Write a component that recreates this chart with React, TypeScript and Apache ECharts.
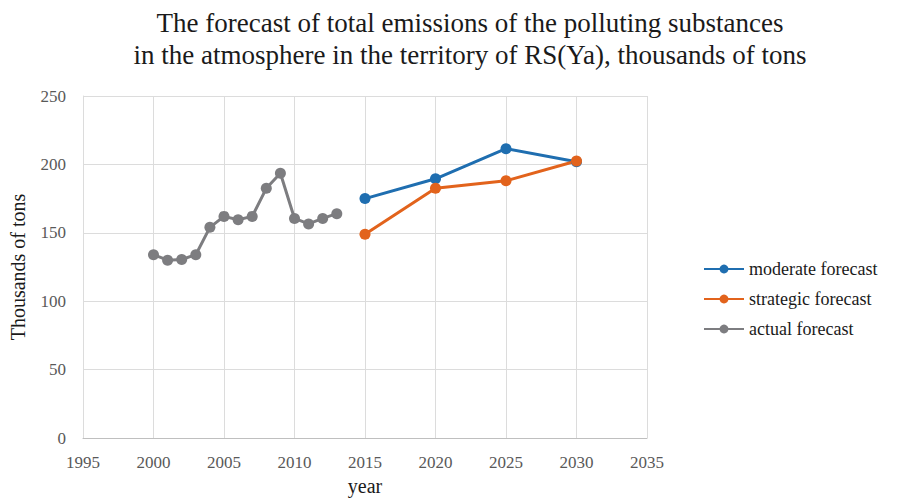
import React, { useEffect, useRef } from "react";
import * as echarts from "echarts";

const actualYears = [2000, 2001, 2002, 2003, 2004, 2005, 2006, 2007, 2008, 2009, 2010, 2011, 2012, 2013];
const actualValues = [134, 130, 130.5, 134, 154, 162, 159.5, 162, 182.5, 193.5, 160.5, 156.5, 160.5, 164];
const forecastYears = [2015, 2020, 2025, 2030];
const moderateValues = [175, 189.5, 211.5, 202];
const strategicValues = [149, 182.5, 188, 202.5];
const titleLines = [
  "The forecast of total emissions of the polluting substances",
  "in the atmosphere in the territory of RS(Ya), thousands of tons",
];

const serif = "Liberation Serif";

export default function App() {
  const ref = useRef<HTMLDivElement>(null);
  useEffect(() => {
    if (!ref.current) return;
    const chart = echarts.init(ref.current, undefined, { renderer: "svg" });
    const mk = (name: string, xs: number[], ys: number[], color: string) => ({
      name,
      type: "line",
      data: xs.map((x, i) => [x, ys[i]]),
      symbol: "circle",
      symbolSize: 11,
      lineStyle: { width: 3, color },
      itemStyle: { color },
      z: 3,
    });
    chart.setOption({
      animation: false,
      backgroundColor: "#ffffff",
      graphic: titleLines.map((t, i) => ({
        type: "text",
        x: 470,
        y: 23 + i * 32,
        style: {
          text: t,
          fontFamily: serif,
          fontSize: 27,
          fill: "#1a1a1a",
          textAlign: "center",
          textVerticalAlign: "middle",
        },
      })),
      legend: {
        orient: "vertical",
        left: 698,
        top: 255,
        itemWidth: 40,
        itemHeight: 11,
        itemGap: 12,
        textStyle: { fontFamily: serif, fontSize: 18, color: "#1a1a1a" },
        data: ["moderate forecast", "strategic forecast", "actual forecast"],
      },
      grid: { left: 83, right: 255, top: 96, bottom: 58, containLabel: false },
      xAxis: {
        type: "value",
        min: 1995,
        max: 2035,
        interval: 5,
        name: "year",
        nameLocation: "middle",
        nameGap: 38,
        nameTextStyle: { fontFamily: serif, fontSize: 20, color: "#1a1a1a", verticalAlign: "top" },
        axisLine: { show: true, lineStyle: { color: "#bfbfbf", width: 1 } },
        axisTick: { show: false },
        axisLabel: {
          fontFamily: serif,
          fontSize: 17,
          color: "#595959",
          margin: 16,
          formatter: (v: number) => String(v),
        },
        splitLine: { show: true, lineStyle: { color: "#dcdcdc", width: 1 } },
      },
      yAxis: {
        type: "value",
        min: 0,
        max: 250,
        interval: 50,
        name: "Thousands of tons",
        nameLocation: "middle",
        nameGap: 55,
        nameTextStyle: { fontFamily: serif, fontSize: 20, color: "#1a1a1a" },
        axisLine: { show: true, lineStyle: { color: "#dcdcdc", width: 1 } },
        axisTick: { show: false },
        axisLabel: { fontFamily: serif, fontSize: 17, color: "#595959", margin: 17 },
        splitLine: { show: true, lineStyle: { color: "#dcdcdc", width: 1 } },
      },
      series: [
        mk("moderate forecast", forecastYears, moderateValues, "#1f6eb0"),
        mk("strategic forecast", forecastYears, strategicValues, "#e2631c"),
        mk("actual forecast", actualYears, actualValues, "#7d7d80"),
      ],
    });
    return () => chart.dispose();
  }, []);
  return <div ref={ref} style={{ width: 902, height: 501, position: "absolute", left: 0, top: 0 }} />;
}
